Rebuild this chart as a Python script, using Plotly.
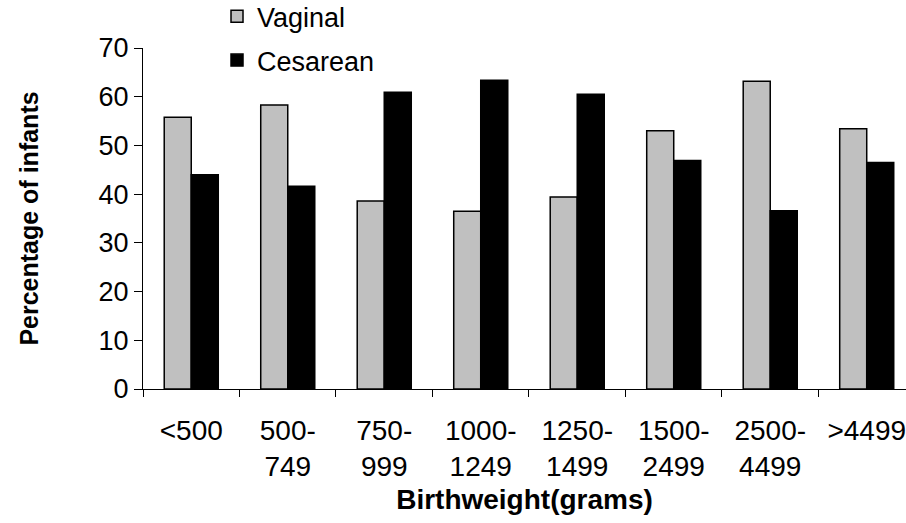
import plotly.graph_objects as go

categories = ["<500", "500-<br>749", "750-<br>999", "1000-<br>1249", "1250-<br>1499",
              "1500-<br>2499", "2500-<br>4499", ">4499"]
vaginal = [55.8, 58.3, 38.6, 36.5, 39.4, 53.0, 63.2, 53.4]
cesarean = [44.0, 41.6, 60.9, 63.4, 60.5, 46.9, 36.6, 46.5]

FONT = "Liberation Sans, Arial, sans-serif"

fig = go.Figure()
fig.add_trace(go.Bar(x=categories, y=vaginal, name="Vaginal",
                     marker=dict(color="#C0C0C0", line=dict(color="black", width=1.5)),
                     legend="legend"))
fig.add_trace(go.Bar(x=categories, y=cesarean, name="Cesarean",
                     marker=dict(color="black", line=dict(color="black", width=1.5)),
                     legend="legend2"))

fig.update_layout(
    width=906, height=523,
    margin=dict(l=143, r=0, t=48, b=134, autoexpand=False),
    paper_bgcolor="white", plot_bgcolor="white",
    font=dict(family=FONT, size=25, color="black"),
    barmode="group", bargap=0.44, bargroupgap=0,
    showlegend=True,
    legend=dict(x=0.097, y=1.164, xanchor="left", yanchor="top",
                bgcolor="rgba(0,0,0,0)", font=dict(size=27), itemwidth=30),
    legend2=dict(x=0.097, y=1.035, xanchor="left", yanchor="top",
                 bgcolor="rgba(0,0,0,0)", font=dict(size=27), itemwidth=30),
    xaxis=dict(range=[-0.5, 7.407], showline=True, linecolor="black", linewidth=1,
               ticks="outside", tickson="boundaries", ticklen=7, tickcolor="black",
               tickfont=dict(size=28), showgrid=False, ticklabelstandoff=16,
               title=dict(text="<b>Birthweight(grams)</b>", font=dict(size=28), standoff=8)),
    yaxis=dict(range=[0, 70], dtick=10, showline=True, linecolor="black", linewidth=1,
               ticks="outside", ticklen=8, tickcolor="black", showgrid=False,
               zeroline=False, tickfont=dict(size=27),
               title=dict(text="<b>Percentage of infants</b>", font=dict(size=25), standoff=52)),
)

fig.write_html("out.html")
